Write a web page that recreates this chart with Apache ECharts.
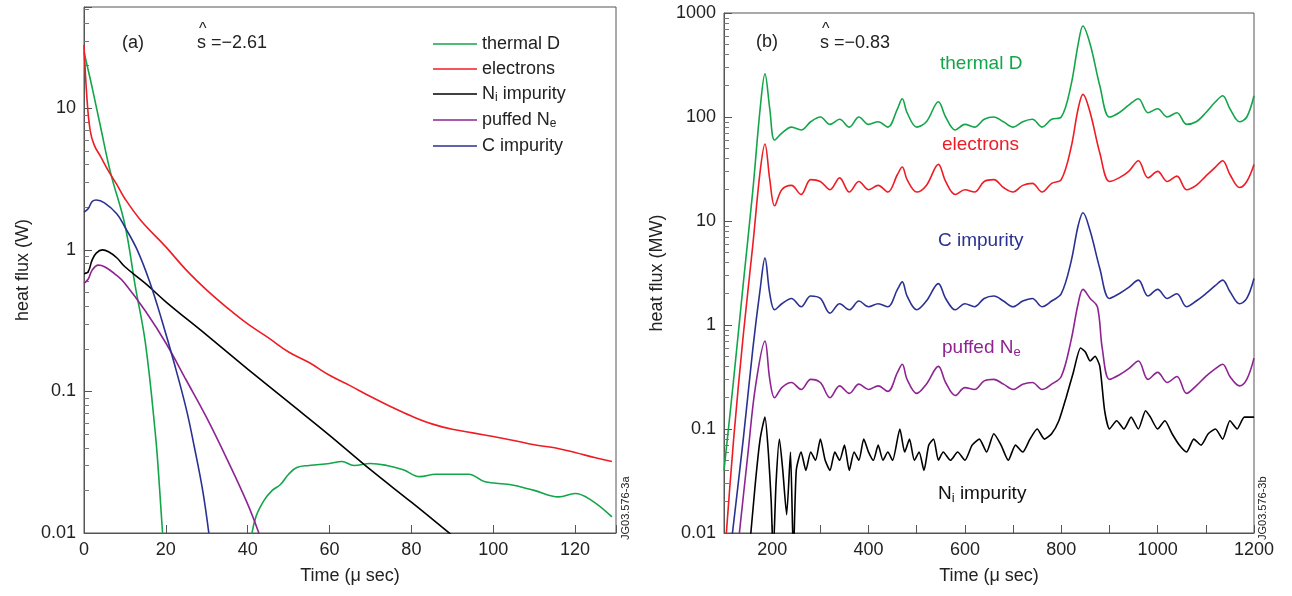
<!DOCTYPE html>
<html><head><meta charset="utf-8">
<script src="https://cdn.jsdelivr.net/npm/echarts@6/dist/echarts.min.js"></script>
<style>html,body{margin:0;padding:0;background:#fff}#c{width:1292px;height:596px}</style>
</head><body><div id="c"></div>
<script>
// Panel (a)
const aThermalD=[[0,25],[2,14],[4,7.5],[6.5,3.5],[10,1.5],[12.5,0.56],[15,0.22],[17.5,0.048],[18.5,0.02],[19.2,0.01],[19.4,0.009],null,
 [40.8,0.009],[42,0.013],[44,0.017],[46,0.02],[48,0.022],[50,0.026],[52,0.029],[55,0.03],[60,0.031],[63,0.032],[66,0.03],[70,0.031],[74,0.03],[78,0.028],[82,0.025],[86,0.026],[90,0.026],[94,0.026],[98,0.023],[104,0.022],[110,0.02],[116,0.018],[120,0.019],[124,0.017],[129,0.013]];
const aElectrons=[[0,28],[0.7,12],[1.5,7],[2.5,5.5],[4,4.6],[6,3.6],[8,2.9],[10,2.3],[14,1.6],[20,1.05],[25,0.72],[30,0.52],[35,0.39],[40,0.3],[45,0.24],[50,0.19],[55,0.16],[60,0.13],[65,0.11],[70,0.092],[75,0.078],[80,0.067],[85,0.059],[90,0.054],[95,0.051],[100,0.048],[105,0.045],[110,0.042],[115,0.04],[120,0.037],[125,0.034],[129,0.032]];
const aNi=[[0,0.68],[1,0.7],[2,0.85],[3,0.95],[4.5,1.0],[6,0.97],[8,0.88],[10,0.76],[15,0.58],[20,0.43],[30,0.25],[40,0.144],[50,0.084],[60,0.049],[70,0.028],[80,0.0165],[90,0.0096]];
const aPuffed=[[0,0.58],[1,0.62],[2,0.72],[3.5,0.78],[5,0.76],[8,0.66],[10,0.58],[15,0.37],[20,0.22],[25,0.12],[30,0.065],[35,0.033],[40,0.016],[43,0.0095]];
const aCimp=[[0,1.85],[1,1.95],[2,2.2],[3,2.25],[5,2.15],[8,1.8],[10,1.45],[13,1.0],[16,0.6],[19,0.32],[22,0.16],[25,0.075],[27,0.04],[29,0.02],[30.5,0.01]];
// Panel (b)
const bThermalD=[[100,0.04],[120,0.3],[140,2.5],[160,20],[175,120],[185,260],[195,120],[205,60],[220,70],[240,80],[260,75],[280,90],[300,100],[320,85],[340,95],[360,80],[380,100],[400,85],[420,90],[440,80],[460,120],[470,150],[480,110],[500,80],[520,90],[545,140],[560,100],[580,75],[600,85],[620,80],[640,95],[660,100],[680,90],[700,80],[720,90],[740,95],[760,80],[780,95],[800,100],[820,200],[835,500],[845,750],[860,500],[880,200],[900,100],[920,110],[940,130],[960,150],[980,110],[1000,120],[1020,100],[1040,110],[1060,85],[1080,90],[1100,110],[1120,140],[1135,160],[1150,120],[1170,90],[1185,100],[1200,160]];
const bElectrons=[[100,0.005],[120,0.08],[140,0.8],[160,6],[175,30],[185,55],[195,25],[205,14],[220,20],[240,22],[260,18],[280,25],[300,24],[320,20],[340,26],[360,19],[380,24],[400,20],[420,22],[440,19],[460,28],[470,33],[480,25],[500,19],[520,22],[545,35],[560,24],[580,18],[600,20],[620,19],[640,24],[660,25],[680,21],[700,19],[720,22],[740,23],[760,19],[780,23],[800,25],[820,50],[835,120],[845,165],[860,110],[880,45],[900,24],[920,26],[940,30],[960,38],[980,26],[1000,30],[1020,24],[1040,27],[1060,20],[1080,22],[1100,27],[1120,33],[1135,38],[1150,28],[1170,21],[1185,24],[1200,35]];
const bCimp=[[110,0.005],[140,0.08],[160,0.6],[175,2.2],[185,4.4],[195,2],[205,1.4],[220,1.6],[240,1.8],[260,1.5],[280,1.9],[300,1.8],[320,1.3],[340,1.6],[360,1.4],[380,1.7],[400,1.5],[420,1.6],[440,1.5],[460,2.2],[470,2.6],[480,1.9],[500,1.4],[520,1.7],[545,2.5],[560,1.8],[580,1.4],[600,1.6],[620,1.5],[640,1.8],[660,1.9],[680,1.7],[700,1.5],[720,1.7],[740,1.8],[760,1.5],[780,1.7],[800,2],[820,4],[835,9],[845,12],[860,8],[880,3.5],[900,1.8],[920,2],[940,2.3],[960,2.7],[980,1.9],[1000,2.2],[1020,1.8],[1040,2],[1060,1.5],[1080,1.7],[1100,2],[1120,2.4],[1135,2.7],[1150,2.1],[1170,1.6],[1185,1.8],[1200,2.8]];
const bPuffed=[[125,0.005],[150,0.06],[165,0.25],[185,0.7],[195,0.3],[205,0.2],[220,0.25],[240,0.28],[260,0.24],[280,0.3],[300,0.28],[320,0.2],[340,0.26],[360,0.22],[380,0.27],[400,0.24],[420,0.26],[440,0.23],[460,0.35],[470,0.42],[480,0.3],[500,0.22],[520,0.27],[545,0.4],[560,0.28],[580,0.21],[600,0.25],[620,0.24],[640,0.29],[660,0.3],[680,0.27],[700,0.24],[720,0.27],[740,0.28],[760,0.24],[780,0.27],[800,0.32],[820,0.7],[835,1.6],[845,2.2],[860,1.8],[875,1.5],[885,0.6],[900,0.3],[920,0.33],[940,0.38],[960,0.45],[980,0.3],[1000,0.35],[1020,0.28],[1040,0.32],[1060,0.22],[1080,0.26],[1100,0.32],[1120,0.38],[1135,0.42],[1150,0.32],[1170,0.26],[1185,0.3],[1200,0.48]];
const bNi=[[150,0.005],[165,0.03],[175,0.08],[185,0.13],[192,0.06],[198,0.02],[202,0.006],[208,0.03],[215,0.08],[222,0.04],[230,0.015],[238,0.06],[244,0.006],[250,0.04],[260,0.06],[270,0.04],[280,0.06],[290,0.05],[300,0.08],[310,0.05],[320,0.04],[330,0.06],[340,0.05],[350,0.07],[360,0.04],[370,0.06],[380,0.05],[390,0.08],[400,0.06],[410,0.05],[420,0.07],[430,0.05],[440,0.06],[450,0.05],[465,0.1],[475,0.06],[485,0.08],[495,0.05],[505,0.06],[515,0.04],[525,0.07],[535,0.08],[545,0.05],[555,0.06],[570,0.05],[585,0.06],[600,0.05],[615,0.07],[630,0.08],[645,0.06],[660,0.09],[675,0.07],[690,0.05],[705,0.07],[720,0.06],[735,0.08],[750,0.1],[765,0.08],[780,0.09],[795,0.12],[810,0.2],[825,0.35],[840,0.6],[850,0.55],[860,0.45],[870,0.5],[880,0.4],[890,0.15],[900,0.1],[915,0.12],[930,0.1],[945,0.13],[960,0.1],[975,0.15],[985,0.13],[1000,0.1],[1015,0.12],[1030,0.09],[1045,0.07],[1060,0.06],[1075,0.08],[1090,0.07],[1105,0.09],[1120,0.1],[1135,0.08],[1150,0.12],[1165,0.1],[1180,0.13],[1200,0.13]];
const aXTicks=[0,20,40,60,80,100,120];
const bXTicks=[200,400,600,800,1000,1200];

const GREEN='#13a54a',RED='#ee1c24',BLACK='#000',PURPLE='#8e2492',BLUE='#2b3192';
const FONT='Liberation Sans, Arial, sans-serif';
const chart=echarts.init(document.getElementById('c'));
const axisCommon={axisLine:{show:true,onZero:false,lineStyle:{color:'#555',width:1}},
 axisTick:{inside:true,length:8,lineStyle:{color:'#555'}},splitLine:{show:false},
 axisLabel:{color:'#222',fontSize:18,fontFamily:FONT},
 nameTextStyle:{color:'#222',fontSize:18,fontFamily:FONT},nameLocation:'middle'};
function xAx(i,min,max,step,ticks){return Object.assign({},axisCommon,{type:'value',gridIndex:i,min:min,max:max,interval:step,name:'Time (μ sec)',nameGap:34,
 axisLabel:Object.assign({},axisCommon.axisLabel,{margin:8,formatter:v=>ticks.indexOf(v)>=0?String(v):''})});}
function yAx(i,min,max,name){return Object.assign({},axisCommon,{type:'log',logBase:10,gridIndex:i,min:min,max:max,name:name,nameGap:i==0?52:58,
 minorTick:{show:true,splitNumber:9,length:5,lineStyle:{color:'#777'}},
 axisLabel:Object.assign({},axisCommon.axisLabel,{formatter:v=>{const l=Math.log10(v);return Math.abs(l-Math.round(l))<1e-6?String(+v.toPrecision(3)):'';}})});}
function s(name,data,color,xi,sm){return {name:name,type:'line',data:data,xAxisIndex:xi,yAxisIndex:xi,showSymbol:false,symbol:'none',smooth:sm,connectNulls:false,clip:true,lineStyle:{color:color,width:1.6},itemStyle:{color:color},silent:true,animation:false};}
chart.setOption({
 animation:false,
 grid:[{left:84,top:7,width:532,height:526,show:true,borderColor:'#555',borderWidth:1},
       {left:724,top:13,width:530,height:520,show:true,borderColor:'#555',borderWidth:1}],
 xAxis:[xAx(0,0,130,20,aXTicks),xAx(1,100,1200,100,bXTicks)],
 yAxis:[yAx(0,0.01,52,'heat flux (W)'),yAx(1,0.01,1000,'heat flux (MW)')],
 legend:{data:['thermal D','electrons','Ni impurity','puffed Ne','C impurity'],orient:'vertical',left:428,top:30,itemGap:7,itemWidth:44,itemHeight:18,
  icon:'path://M0,9L44,9L44,10.5L0,10.5Z',selectedMode:false,
  textStyle:{fontSize:18,fontFamily:FONT,color:'#222',rich:{sub:{fontSize:12,verticalAlign:'bottom',padding:[8,0,0,0],fontFamily:FONT,color:'#222'},n:{fontSize:18,fontFamily:FONT,color:'#222'}}},
  formatter:n=>n==='Ni impurity'?'{n|N}{sub|i}{n| impurity}':n==='puffed Ne'?'{n|puffed N}{sub|e}':n},
 series:[s('thermal D',aThermalD,GREEN,0,0.4),s('electrons',aElectrons,RED,0,0.4),s('Ni impurity',aNi,BLACK,0,0.4),s('puffed Ne',aPuffed,PURPLE,0,0.4),s('C impurity',aCimp,BLUE,0,0.4),
  s('b thermal D',bThermalD,GREEN,1,0.35),s('b electrons',bElectrons,RED,1,0.35),s('b C',bCimp,BLUE,1,0.35),s('b puffed',bPuffed,PURPLE,1,0.35),s('b Ni',bNi,BLACK,1,0.2)],
 graphic:[
  {type:'text',left:122,top:34,style:{text:'(a)',fontSize:18,fontFamily:FONT,fill:'#222'}},
  {type:'text',left:197,top:34,style:{text:'s =−2.61',fontSize:18,fontFamily:FONT,fill:'#222'}},
  {type:'text',left:199,top:22,style:{text:'^',fontSize:16,fontFamily:FONT,fill:'#222'}},
  {type:'text',left:756,top:33,style:{text:'(b)',fontSize:18,fontFamily:FONT,fill:'#222'}},
  {type:'text',left:820,top:34,style:{text:'s =−0.83',fontSize:18,fontFamily:FONT,fill:'#222'}},
  {type:'text',left:822,top:22,style:{text:'^',fontSize:16,fontFamily:FONT,fill:'#222'}},
  {type:'text',left:940,top:54,style:{text:'thermal D',fontSize:19,fontFamily:FONT,fill:GREEN}},
  {type:'text',left:942,top:135,style:{text:'electrons',fontSize:19,fontFamily:FONT,fill:RED}},
  {type:'text',left:938,top:231,style:{text:'C impurity',fontSize:19,fontFamily:FONT,fill:BLUE}},
  {type:'text',left:942,top:338,style:{text:'{n|puffed N}{s|e}',rich:{n:{fontSize:19,fontFamily:FONT,fill:PURPLE},s:{fontSize:13,fontFamily:FONT,fill:PURPLE,padding:[9,0,0,0]}}}},
  {type:'text',left:938,top:484,style:{text:'{n|N}{s|i}{n| impurity}',rich:{n:{fontSize:19,fontFamily:FONT,fill:'#111'},s:{fontSize:13,fontFamily:FONT,fill:'#111',padding:[9,0,0,0]}}}},
  {type:'text',x:620,y:540,rotation:Math.PI/2,style:{text:'JG03.576-3a',fontSize:11,fontFamily:FONT,fill:'#222'}},
  {type:'text',x:1257,y:540,rotation:Math.PI/2,style:{text:'JG03.576-3b',fontSize:11,fontFamily:FONT,fill:'#222'}}
 ]
});
</script></body></html>
